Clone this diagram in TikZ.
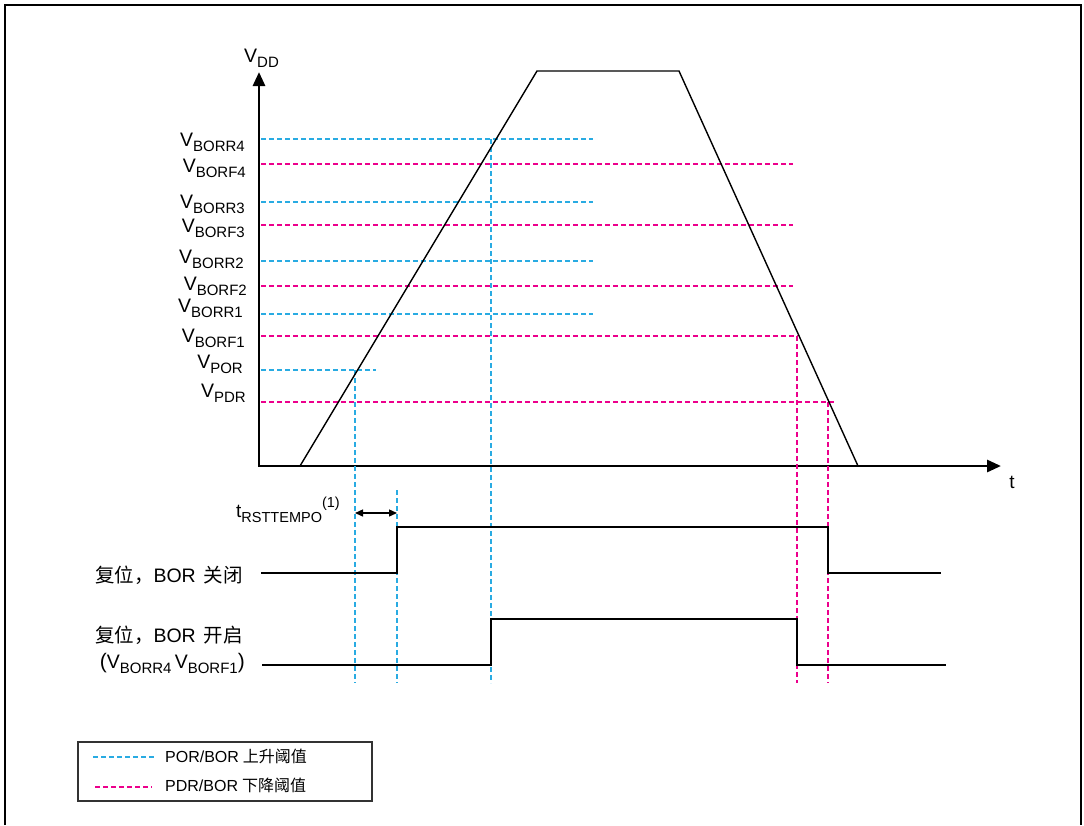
\documentclass[tikz,border=0pt]{standalone}
\usepackage{fontspec}
\setmainfont{Liberation Sans}
\newfontfamily\cjk{Noto Sans CJK SC}
\usetikzlibrary{arrows.meta}
\definecolor{rise}{HTML}{29ABE2}
\definecolor{fall}{HTML}{EC008C}
\newcommand{\Vs}[1]{V\raisebox{-0.28em}{\fontsize{15}{15}\selectfont #1}}
\begin{document}
\begin{tikzpicture}[x=1pt,y=-1pt,
  axisline/.style={line width=2.8pt,-{Triangle[length=14pt,width=12pt]}},
  risedash/.style={rise,line width=1.1pt,dash pattern=on 5pt off 3pt},
  falldash/.style={fall,line width=1.1pt,dash pattern=on 5pt off 3pt},
  sig/.style={line width=1.6pt},
  ramp/.style={line width=1.4pt},
  lvl/.style={anchor=base east,font=\fontsize{19.5}{20}\selectfont,inner sep=0pt},
  siglabel/.style={anchor=base east,font=\fontsize{19.5}{22}\selectfont,inner sep=0pt},
  legtext/.style={anchor=base west,font=\fontsize{16}{18}\selectfont,inner sep=0pt}]
\useasboundingbox (0,0) rectangle (1084,825);
% frame (open at the bottom)
\draw[line width=1.8pt] (5,825) -- (5,5) -- (1081,5) -- (1081,825);

% axes
\coordinate (O) at (259,466);
\coordinate (ytop) at (259,72);
\coordinate (xend) at (1001,466);
\draw[axisline] (O) -- (ytop);
\draw[axisline] (258,466) -- (xend);
\node[anchor=base west,font=\fontsize{19.5}{20}\selectfont,inner sep=0pt] (vdd) at (244,62) {\Vs{DD}};
\node[font=\fontsize{19}{19}\selectfont,inner sep=0pt] (t) at (1012,482) {t};

% level labels
\node[lvl] (lR4) at (245,146) {\Vs{BORR4}};
\node[lvl] (lF4) at (246,172) {\Vs{BORF4}};
\node[lvl] (lR3) at (245,208) {\Vs{BORR3}};
\node[lvl] (lF3) at (245,232) {\Vs{BORF3}};
\node[lvl] (lR2) at (244,263) {\Vs{BORR2}};
\node[lvl] (lF2) at (247,290) {\Vs{BORF2}};
\node[lvl] (lR1) at (243,312) {\Vs{BORR1}};
\node[lvl] (lF1) at (245,342) {\Vs{BORF1}};
\node[lvl] (lPOR) at (243,368) {\Vs{POR}};
\node[lvl] (lPDR) at (246,397) {\Vs{PDR}};

% level lines
\draw[risedash] (261,139) -- (593,139);
\draw[falldash] (261,164) -- (793,164);
\draw[risedash] (261,202) -- (593,202);
\draw[falldash] (261,225) -- (793,225);
\draw[risedash] (261,261) -- (593,261);
\draw[falldash] (261,286) -- (793,286);
\draw[risedash] (261,314) -- (593,314);
\draw[falldash] (261,336) -- (798,336);
\draw[risedash] (261,370) -- (376,370);
\draw[falldash] (261,402) -- (835,402);

% vertical markers
\draw[risedash] (355,370) -- (355,683);
\draw[risedash] (397,490) -- (397,683);
\draw[risedash] (491,139) -- (491,683);
\draw[falldash] (797,336) -- (797,683);
\draw[falldash] (828,402) -- (828,683);

% VDD ramp
\coordinate (r0) at (300,466);
\coordinate (r1) at (537,71);
\coordinate (r2) at (679,71);
\coordinate (r3) at (858,466);
\draw[ramp,line join=miter] (r0) -- (r1) -- (r2) -- (r3);

% tRSTTEMPO
\coordinate (ta) at (355,513);
\coordinate (tb) at (397,513);
\draw[line width=1.4pt,{Triangle[length=8pt,width=7pt]}-{Triangle[length=8pt,width=7pt]}] (ta) -- (tb);
\node[anchor=base west,inner sep=0pt,font=\fontsize{19}{19}\selectfont] (tlab) at (236,517)
  {t\raisebox{-0.28em}{\fontsize{14.5}{14.5}\selectfont RSTTEMPO}\raisebox{0.5em}{\fontsize{14.5}{14.5}\selectfont (1)}};

% signals
\draw[sig] (261,573) -- (397,573) -- (397,527) -- (828,527) -- (828,573) -- (941,573);
\draw[sig] (262,665) -- (491,665) -- (491,619) -- (797,619) -- (797,665) -- (946,665);
\node[siglabel] (s1) at (243,582) {{\cjk 复位，}BOR\hspace{8pt}{\cjk 关闭}};
\node[siglabel] (s2) at (243,642) {{\cjk 复位，}BOR\hspace{8pt}{\cjk 开启}};
\node[siglabel] (s3) at (245,668) {\fontsize{21}{22}\selectfont(\fontsize{19.5}{22}\selectfont\Vs{BORR4}\,\Vs{BORF1}\fontsize{21}{22}\selectfont)};

% legend
\draw[line width=1.2pt,black!80] (78,742) rectangle (372,801);
\coordinate (la) at (93,757);
\coordinate (lb) at (154,757);
\coordinate (lc) at (95,787);
\coordinate (ld) at (152,787);
\draw[risedash] (la) -- (lb);
\draw[falldash] (lc) -- (ld);
\node[legtext] (leg1) at (165,762) {POR/BOR\hspace{4pt}{\cjk 上升阈值}};
\node[legtext] (leg2) at (165,791) {PDR/BOR\hspace{4pt}{\cjk 下降阈值}};
\end{tikzpicture}
\end{document}
